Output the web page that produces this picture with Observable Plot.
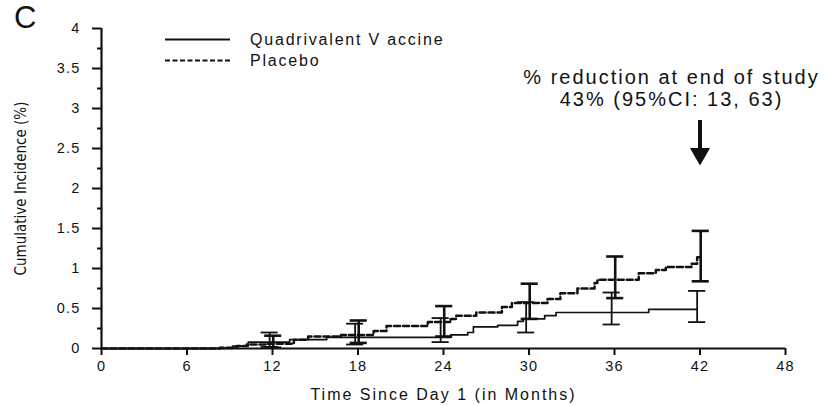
<!DOCTYPE html>
<html><head><meta charset="utf-8">
<script src="https://cdn.jsdelivr.net/npm/d3@7"></script>
<script src="https://cdn.jsdelivr.net/npm/@observablehq/plot@0.6"></script>
<style>
body{margin:0;background:#fff;}
#wrap{position:relative;width:825px;height:405px;font-family:"Liberation Sans",Arial,sans-serif;color:#111;}
#wrap svg.plot{position:absolute;left:0;top:0;}
#letter{position:absolute;left:14px;top:2px;font-size:31px;line-height:1;}
#legend{position:absolute;left:0;top:0;width:825px;height:80px;pointer-events:none;}
#wrap g[aria-label="x-axis tick label"], #wrap g[aria-label="y-axis tick label"]{font-size:14.5px;letter-spacing:1.2px;}
#wrap g[aria-label="x-axis label"]{font-size:16px;letter-spacing:2px;}
#wrap g[aria-label="y-axis label"]{font-family:"Liberation Sans Narrow","DejaVu Sans Condensed",sans-serif;font-size:15px;}
</style></head><body><div id="wrap"><div id="letter"></div></div>
<script>
const panelLetter = "C";
const seriesNames = ["Quadrivalent V accine", "Placebo"];
const xLabel = "Time Since Day 1 (in Months)";
const yLabel = "Cumulative Incidence (%)";
const xTicks = [0, 6, 12, 18, 24, 30, 36, 42, 48];
const yTicks = [0, 0.5, 1, 1.5, 2, 2.5, 3, 3.5, 4];
const yMinorTicks = [0.25, 0.75, 1.25, 1.75, 2.25, 2.75, 3.25, 3.75];

// Placebo step curve (months, cumulative incidence %)
const placeboT = [0, 8.3, 9.5, 10.2, 11.5, 13.5, 14.5, 16.8, 19.1, 20.0, 22.9, 24.5, 24.9, 26.3, 28.1, 28.8, 31.3, 32.2, 33.4, 34.6, 34.8, 37.7, 38.9, 39.6, 41.4, 41.8, 42.1];
const placeboV = [0, 0.01, 0.03, 0.05, 0.06, 0.11, 0.15, 0.17, 0.22, 0.28, 0.33, 0.37, 0.41, 0.45, 0.52, 0.57, 0.62, 0.69, 0.75, 0.82, 0.86, 0.94, 0.98, 1.02, 1.06, 1.14, 1.14];
// Vaccine step curve
const vaccineT = [0, 9.2, 10.3, 13.2, 15.8, 24.5, 25.7, 26.1, 27.8, 29.2, 29.6, 31.1, 31.9, 38.4, 41.8];
const vaccineV = [0, 0.03, 0.08, 0.11, 0.14, 0.17, 0.20, 0.27, 0.29, 0.34, 0.37, 0.41, 0.45, 0.49, 0.49];

// 95% CI bars at time points
const ciT = [12, 18, 24, 30, 36, 42];
const placeboLo = [0.01, 0.07, 0.15, 0.37, 0.63, 0.84];
const placeboHi = [0.16, 0.35, 0.53, 0.81, 1.15, 1.47];
const vaccineLo = [0.02, 0.05, 0.08, 0.20, 0.30, 0.33];
const vaccineHi = [0.20, 0.31, 0.38, 0.58, 0.70, 0.72];

// Annotation
const annotText = ["% reduction at end of study\n43% (95%CI: 13, 63)"];
const annotX = [40];
const annotY = [3.255];
const arrowX = [42];
const arrowTop = [2.85];
const arrowHead = [2.434];

const placebo = placeboT.map((t, i) => ({t, v: placeboV[i]}));
const vaccine = vaccineT.map((t, i) => ({t, v: vaccineV[i]}));
const ciRows = [
  ...ciT.map((t, i) => ({x: t - 0.2, lo: vaccineLo[i], hi: vaccineHi[i], w: 1.8})),
  ...ciT.map((t, i) => ({x: t + 0.05, lo: placeboLo[i], hi: placeboHi[i], w: 2.6}))
];
const capRows = ciRows.flatMap(d => [{x: d.x, y: d.lo, w: d.w}, {x: d.x, y: d.hi, w: d.w}]);

const chart = Plot.plot({
  width: 825,
  height: 405,
  marginLeft: 101,
  marginRight: 40,
  marginTop: 28,
  marginBottom: 57,
  style: {fontFamily: "'Liberation Sans', Arial, sans-serif", fontSize: "14px", color: "#111", background: "transparent"},
  x: {domain: [0, 48]},
  y: {domain: [0, 4]},
  marks: [
    Plot.axisX({ticks: xTicks, tickSize: 7, tickPadding: 5, tickFormat: d => String(d), label: xLabel, labelAnchor: "center", labelArrow: "none", labelOffset: 51, strokeWidth: 2}),
    Plot.axisY({ticks: yTicks, tickSize: 9, tickPadding: 12, tickFormat: d => String(d), label: yLabel, labelAnchor: "center", labelArrow: "none", labelOffset: 86, strokeWidth: 2}),
    Plot.axisY({ticks: yMinorTicks, tickSize: 4, text: null, label: null, strokeWidth: 2}),
    Plot.ruleX([0], {strokeWidth: 2.2, stroke: "#111"}),
    Plot.ruleY([0], {strokeWidth: 2.2, stroke: "#111"}),
    Plot.line(vaccine, {x: "t", y: "v", curve: "step-after", stroke: "#111", strokeWidth: 1.7}),
    Plot.line(placebo, {x: "t", y: "v", curve: "step-after", stroke: "#111", strokeWidth: 2.5, strokeDasharray: "6,3"}),
    Plot.ruleX(ciRows, {x: "x", y1: "lo", y2: "hi", stroke: "#111", strokeWidth: d => d.w}),
    Plot.ruleY(capRows, {y: "y", x1: d => d.x - 0.6, x2: d => d.x + 0.6, stroke: "#111", strokeWidth: d => d.w}),
    Plot.text(annotText, {x: annotX, y: annotY, text: d => d, fontSize: 20, lineHeight: 1.08, lineAnchor: "middle", fill: "#111"}),
    Plot.ruleX(arrowX, {x: d => d, y1: arrowTop, y2: arrowHead, stroke: "#111", strokeWidth: 4}),
    Plot.dot(arrowX, {x: d => d, y: arrowHead, symbol: "triangle", r: 7.5, rotate: 180, fill: "#111", stroke: "none"})
  ]
});
chart.querySelectorAll('g[aria-label="text"] text').forEach(t => t.style.letterSpacing = "2px");
document.getElementById("wrap").appendChild(chart);
document.getElementById("letter").textContent = panelLetter;

// Legend overlay
const ns = "http://www.w3.org/2000/svg";
const leg = document.createElementNS(ns, "svg");
leg.setAttribute("id", "legend");
leg.setAttribute("width", 825);
leg.setAttribute("height", 80);
const rows = [{name: seriesNames[0], dash: null, y: 39.5}, {name: seriesNames[1], dash: "5,2.5", y: 60.5}];
rows.forEach(r => {
  const l = document.createElementNS(ns, "line");
  l.setAttribute("x1", 165); l.setAttribute("x2", 230);
  l.setAttribute("y1", r.y); l.setAttribute("y2", r.y);
  l.setAttribute("stroke", "#111"); l.setAttribute("stroke-width", 2);
  if (r.dash) l.setAttribute("stroke-dasharray", r.dash);
  leg.appendChild(l);
  const t = document.createElementNS(ns, "text");
  t.setAttribute("x", 250); t.setAttribute("y", r.y);
  t.setAttribute("dy", "0.35em");
  t.setAttribute("font-size", 16);
  t.setAttribute("font-family", "Liberation Sans, Arial, sans-serif");
  t.setAttribute("letter-spacing", "1.8");
  t.setAttribute("fill", "#111");
  t.textContent = r.name;
  leg.appendChild(t);
});
document.getElementById("wrap").appendChild(leg);
</script></body></html>
